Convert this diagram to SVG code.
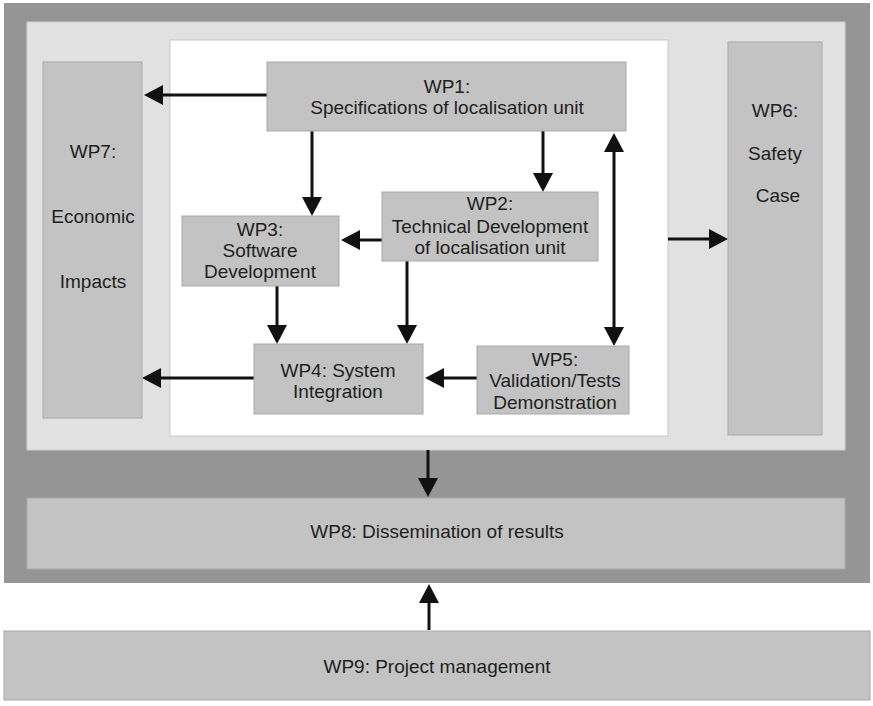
<svg xmlns="http://www.w3.org/2000/svg" width="873" height="706" viewBox="0 0 873 706">
<style>
.box{fill:#c3c3c3;stroke:#a9a9a9;stroke-width:1}
.t{font-family:"Liberation Sans",Arial,sans-serif;font-size:19px;fill:#1e1e1e;text-anchor:middle}
.c{stroke:#111;stroke-width:3;fill:none}
</style>
<defs>
<marker id="ah" markerUnits="userSpaceOnUse" markerWidth="20" markerHeight="20" refX="9" refY="10" orient="auto-start-reverse" viewBox="0 0 20 20">
<path d="M0,0 L19,10 L0,20 z" fill="#111"/>
</marker>
</defs>
<rect x="0" y="0" width="873" height="706" fill="#ffffff"/>
<g id="frame">
<rect x="4" y="3" width="866" height="580" fill="#959595"/>
<rect x="27" y="22" width="818" height="428" fill="#e1e1e1" stroke="#cfcfcf" stroke-width="1"/>
<rect x="170" y="40" width="498" height="396" fill="#ffffff" stroke="#c8c8c8" stroke-width="1"/>
</g>
<g id="connectors">
<line class="c" x1="267" y1="95" x2="154" y2="95" marker-end="url(#ah)"/>
<line class="c" x1="312" y1="131" x2="312" y2="206" marker-end="url(#ah)"/>
<line class="c" x1="543" y1="131" x2="543" y2="182" marker-end="url(#ah)"/>
<line class="c" x1="614" y1="143" x2="614" y2="336" marker-start="url(#ah)" marker-end="url(#ah)"/>
<line class="c" x1="382" y1="240" x2="351" y2="240" marker-end="url(#ah)"/>
<line class="c" x1="277" y1="286" x2="277" y2="334" marker-end="url(#ah)"/>
<line class="c" x1="407" y1="261" x2="407" y2="334" marker-end="url(#ah)"/>
<line class="c" x1="477" y1="378" x2="435" y2="378" marker-end="url(#ah)"/>
<line class="c" x1="254" y1="378" x2="152" y2="378" marker-end="url(#ah)"/>
<line class="c" x1="668" y1="239" x2="718" y2="239" marker-end="url(#ah)"/>
<line class="c" x1="428" y1="450" x2="428" y2="487" marker-end="url(#ah)"/>
<line class="c" x1="429" y1="630" x2="429" y2="594" marker-end="url(#ah)"/>
</g>
<g id="wp1">
<rect class="box" x="267" y="62" width="359" height="69"/>
<text class="t" x="447" y="93">WP1:</text>
<text class="t" x="447" y="114">Specifications of localisation unit</text>
</g>
<g id="wp2">
<rect class="box" x="382" y="192" width="216" height="69"/>
<text class="t" x="490" y="210">WP2:</text>
<text class="t" x="490" y="233">Technical Development</text>
<text class="t" x="490" y="254">of localisation unit</text>
</g>
<g id="wp3">
<rect class="box" x="182" y="216" width="157" height="70"/>
<text class="t" x="260" y="236">WP3:</text>
<text class="t" x="260" y="257">Software</text>
<text class="t" x="260" y="278">Development</text>
</g>
<g id="wp4">
<rect class="box" x="254" y="344" width="169" height="70"/>
<text class="t" x="338" y="377">WP4: System</text>
<text class="t" x="338" y="398">Integration</text>
</g>
<g id="wp5">
<rect class="box" x="477" y="346" width="152" height="68"/>
<text class="t" x="555" y="366">WP5:</text>
<text class="t" x="555" y="387">Validation/Tests</text>
<text class="t" x="555" y="409">Demonstration</text>
</g>
<g id="wp6">
<rect class="box" x="728" y="42" width="94" height="393"/>
<text class="t" x="775" y="117">WP6:</text>
<text class="t" x="775" y="160">Safety</text>
<text class="t" x="778" y="202">Case</text>
</g>
<g id="wp7">
<rect class="box" x="43" y="62" width="99" height="356"/>
<text class="t" x="93" y="158">WP7:</text>
<text class="t" x="93" y="223">Economic</text>
<text class="t" x="93" y="288">Impacts</text>
</g>
<g id="wp8">
<rect class="box" x="27" y="498" width="818" height="71"/>
<text class="t" x="437" y="538">WP8: Dissemination of results</text>
</g>
<g id="wp9">
<rect class="box" x="4" y="631" width="866" height="69"/>
<text class="t" x="437" y="673">WP9: Project management</text>
</g>
</svg>
